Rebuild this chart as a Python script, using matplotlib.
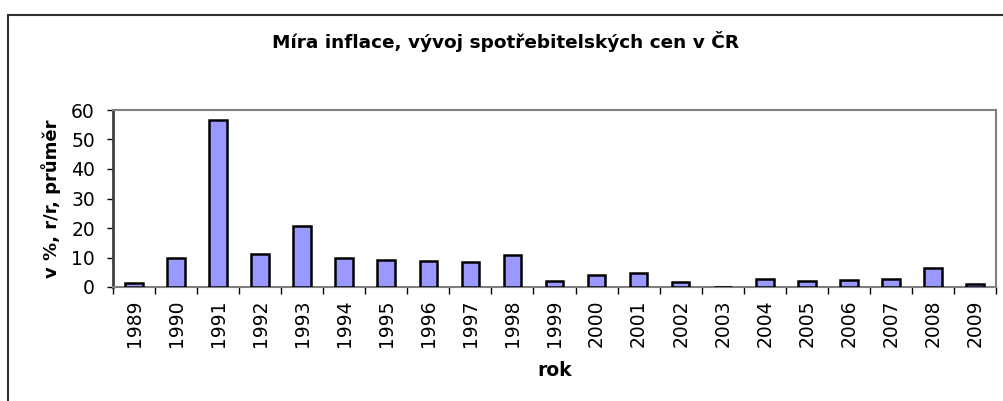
import matplotlib
matplotlib.use("Agg")
import matplotlib.pyplot as plt
from matplotlib.patches import Rectangle

years = ["1989", "1990", "1991", "1992", "1993", "1994", "1995", "1996", "1997", "1998",
         "1999", "2000", "2001", "2002", "2003", "2004", "2005", "2006", "2007", "2008", "2009"]
inflation = [1.4, 9.7, 56.6, 11.1, 20.8, 10.0, 9.1, 8.8, 8.5, 10.7,
             2.1, 3.9, 4.7, 1.8, 0.1, 2.8, 1.9, 2.5, 2.8, 6.3, 1.0]
yticks = [0, 10, 20, 30, 40, 50, 60]

plt.rcParams['font.family'] = ['DejaVu Sans']

W, H = 1004, 401
fig = plt.figure(figsize=(W / 100, H / 100), dpi=100)
ax = fig.add_axes([113 / W, 1 - 287 / H, (996 - 113) / W, (287 - 110) / H])

x = list(range(len(years)))
ax.bar(x, inflation, width=0.42, color='#9999FF', edgecolor='black', linewidth=1.8, zorder=3)

ax.set_xlim(-0.5, len(years) - 0.5)
ax.set_ylim(0, 60)
ax.set_yticks(yticks)
ax.set_yticklabels([str(v) for v in yticks], fontsize=13.5)
ax.set_xticks([i - 0.5 for i in range(len(years) + 1)], minor=False)
ax.set_xticklabels([])
ax.set_xticks(x, minor=True)
ax.set_xticklabels(years, minor=True, rotation=90, fontsize=13.5)
ax.tick_params(axis='x', which='major', length=5, width=1, color='black', direction='out')
ax.tick_params(axis='x', which='minor', length=0, pad=9)
ax.tick_params(axis='y', length=4, width=1, color='black', direction='out', pad=9)
for s in ax.spines.values():
    s.set_color('#808080')
    s.set_linewidth(1.5)
ax.spines['left'].set_color('#404040')
ax.spines['left'].set_linewidth(2)

ax.set_xlabel('rok', fontsize=13.5, fontweight='bold', labelpad=10)
ax.set_ylabel('v %, r/r, průměr', fontsize=13, fontweight='bold', labelpad=7)

fig.text(506 / W, 1 - 42 / H, 'Míra inflace, vývoj spotřebitelských cen v ČR',
         ha='center', va='center', fontsize=13.3, fontweight='bold')

frame = Rectangle((8.5 / W, -0.1), 1.2, 1.1 - 14.5 / H, transform=fig.transFigure,
                  fill=False, edgecolor='#303030', linewidth=1.5, clip_on=False)
fig.patches.append(frame)

fig.savefig('out.png', dpi=100)
